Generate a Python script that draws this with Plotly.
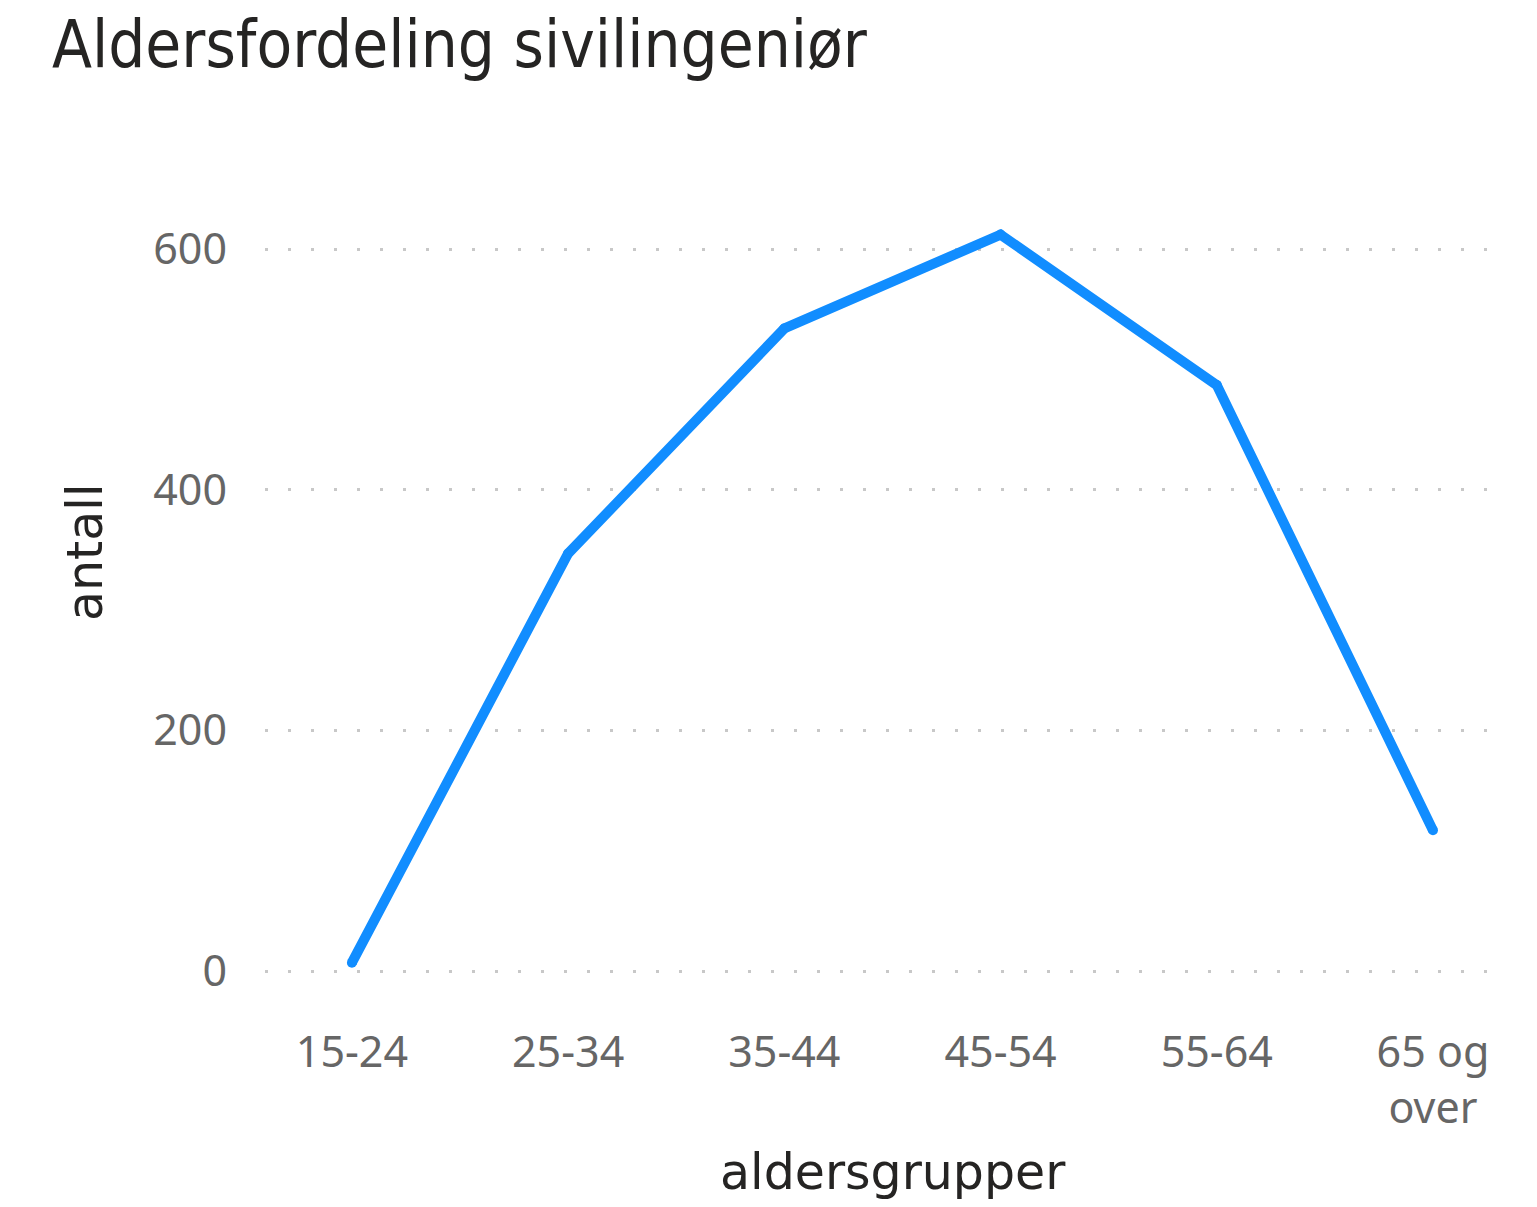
import plotly.graph_objects as go

categories = ["15-24", "25-34", "35-44", "45-54", "55-64", "65 og<br>over"]
antall = [7, 347, 534, 612, 487, 117]
y_ticks = [0, 200, 400, 600]

# The page body has an 8px margin, so the figure is drawn 8px smaller and all
# target pixel positions are shifted by -8.
OFF = 8
W, H = 1537 - OFF, 1207 - OFF
L, R, T, B = 265 - OFF, 1500 - OFF, 170 - OFF, 1000 - OFF  # plot area in pixels


def px_x(px):
    return (px - OFF - L) / (R - L)


def px_y(py):
    return (B - (py - OFF)) / (B - T)


fig = go.Figure()
fig.add_trace(go.Scatter(
    x=categories, y=antall, mode="lines+markers",
    line=dict(color="#118DFF", width=10),
    marker=dict(color="#118DFF", size=10, line=dict(width=0)),
    hoverinfo="x+y",
))

tick_font = dict(family="Noto Sans, Open Sans, sans-serif", size=43, color="#666666")
title_font = dict(family="DejaVu Sans, sans-serif", size=49, color="#252423")

fig.update_layout(
    width=W, height=H,
    paper_bgcolor="white", plot_bgcolor="white",
    margin=dict(l=L, r=W - R, t=T, b=H - B, autoexpand=False),
    showlegend=False,
    title=dict(
        text="Aldersfordeling sivilingeniør",
        x=(52 - OFF) / W, xanchor="left", xref="container",
        y=1 - (44 - OFF) / H, yanchor="middle", yref="container",
        font=dict(family="DejaVu Sans Condensed, sans-serif", size=65, color="#252423"),
    ),
    xaxis=dict(
        type="category",
        range=[-0.402, 5.31],
        showgrid=False, zeroline=False, showline=False,
        tickfont=tick_font,
        ticklabelstandoff=23,
        automargin=False,
    ),
    yaxis=dict(
        range=[-24, 665.7],
        tickvals=y_ticks,
        showgrid=True, gridcolor="#C8C8C8", griddash="3px,20px", gridwidth=3,
        zeroline=False, showline=False,
        tickfont=tick_font,
        ticklabelstandoff=37,
        automargin=False,
    ),
    annotations=[
        dict(text="aldersgrupper", xref="paper", yref="paper",
             x=px_x(893), y=px_y(1172), xanchor="center", yanchor="middle",
             showarrow=False, font=title_font),
        dict(text="antall", xref="paper", yref="paper",
             x=px_x(85), y=px_y(552), xanchor="center", yanchor="middle",
             textangle=-90, showarrow=False, font=title_font),
    ],
)

fig.write_html("out.html")
